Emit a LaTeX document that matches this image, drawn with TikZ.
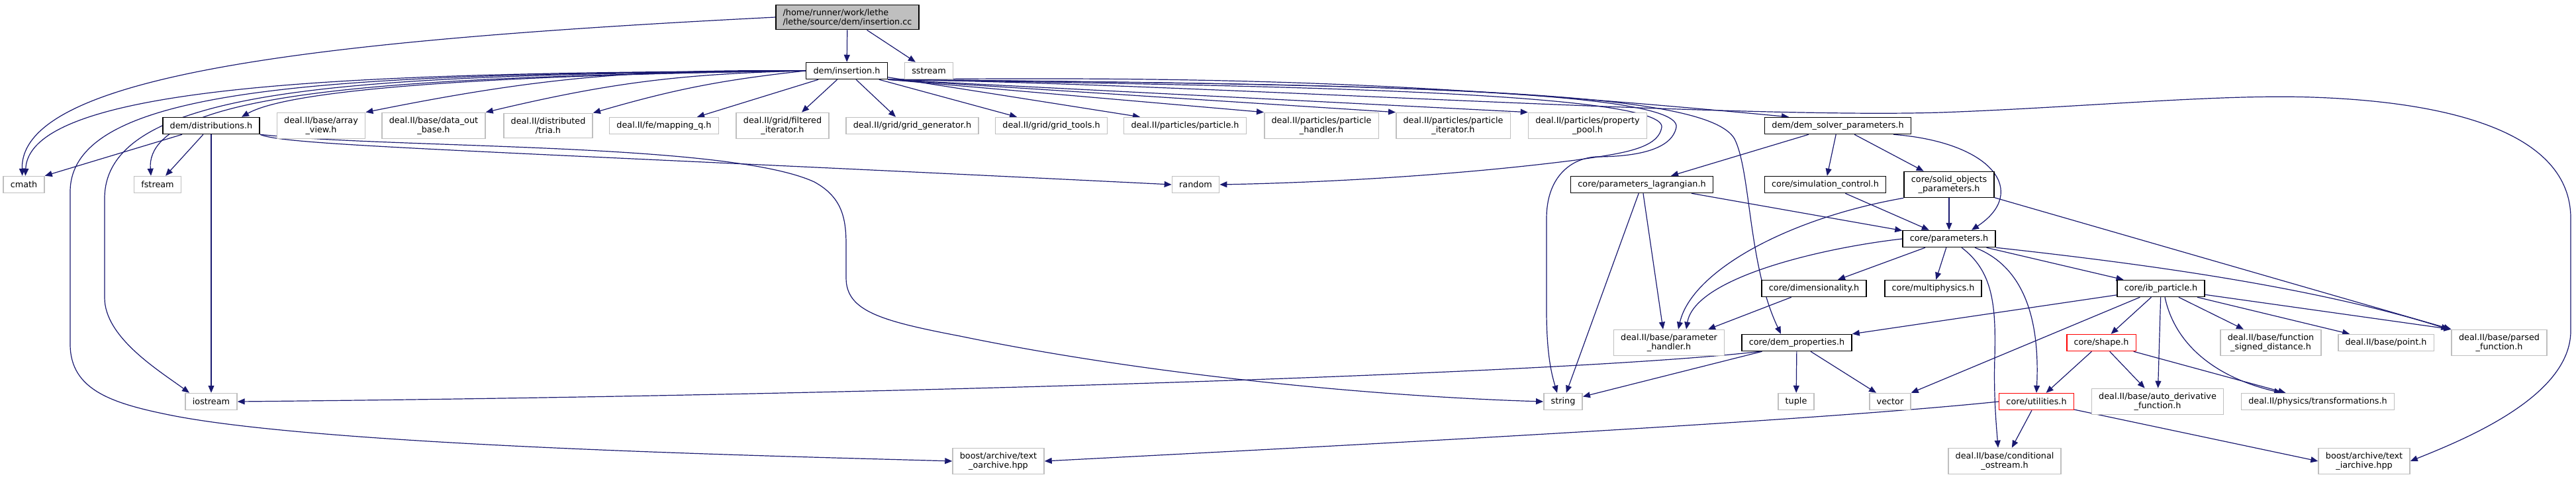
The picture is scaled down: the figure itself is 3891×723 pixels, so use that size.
\documentclass[tikz,border=0pt]{standalone}
\usepackage{fontspec}
\setmainfont{DejaVu Sans}
\usetikzlibrary{arrows.meta}
\definecolor{midnight}{RGB}{25,25,112}
\definecolor{grey75}{RGB}{191,191,191}
\pgfdeclarelayer{edges}
\pgfsetlayers{edges,main}

\begin{document}
\begin{tikzpicture}[x=0.5pt, y=-0.5pt, >={Triangle[length=5.5pt,width=4.5pt]},
		font=\fontsize{6.4}{7.2}\selectfont,
		filebox/.style={draw=grey75, line width=0.75pt, fill=white, align=center,
			inner xsep=5.4pt, inner ysep=3pt, minimum height=12.5pt},
		docbox/.style={filebox, draw=black},
		truncbox/.style={filebox, draw=red},
		incl/.style={->, midnight, line width=0.6pt}]
	\useasboundingbox (0,0) rectangle (3891,723);
	% the source file and dem/insertion.h
	\node[docbox, fill=grey75, align=left] (cc) at (1280,26) {/home/runner/work/lethe\\/lethe/source/dem/insertion.cc};
	\node[docbox] (ins) at (1279,107) {dem/insertion.h};
	\node[filebox] (sst) at (1403,107) {sstream};
	% second row
	\node[docbox] (dist) at (319,190) {dem/distributions.h};
	\node[filebox] (arrv) at (485,190) {deal.II/base/array\\\_view.h};
	\node[filebox] (dout) at (655,190) {deal.II/base/data\_out\\\_base.h};
	\node[filebox] (tria) at (828,190) {deal.II/distributed\\/tria.h};
	\node[filebox] (mapq) at (1003,190) {deal.II/fe/mapping\_q.h};
	\node[filebox] (filt) at (1182,190) {deal.II/grid/filtered\\\_iterator.h};
	\node[filebox] (ggen) at (1378,190) {deal.II/grid/grid\_generator.h};
	\node[filebox] (gtool) at (1588,190) {deal.II/grid/grid\_tools.h};
	\node[filebox] (part) at (1790,190) {deal.II/particles/particle.h};
	\node[filebox] (phand) at (1996,190) {deal.II/particles/particle\\\_handler.h};
	\node[filebox] (piter) at (2195,190) {deal.II/particles/particle\\\_iterator.h};
	\node[filebox] (ppool) at (2398,190) {deal.II/particles/property\\\_pool.h};
	\node[docbox] (dsp) at (2776,190) {dem/dem\_solver\_parameters.h};
	% third row
	\node[filebox] (cmath) at (36,279) {cmath};
	\node[filebox] (fstr) at (238,279) {fstream};
	\node[filebox] (rand) at (1806,279) {random};
	\node[docbox] (plag) at (2480,279) {core/parameters\_lagrangian.h};
	\node[docbox] (simc) at (2757,279) {core/simulation\_control.h};
	\node[docbox] (solid) at (2944,279) {core/solid\_objects\\\_parameters.h};
	\node[docbox] (par) at (2944,361) {core/parameters.h};
	\node[docbox] (dim) at (2740,436) {core/dimensionality.h};
	\node[docbox] (mph) at (2920,436) {core/multiphysics.h};
	\node[docbox] (ibp) at (3264,436) {core/ib\_particle.h};
	% lower rows
	\node[filebox] (phdl) at (2521,518) {deal.II/base/parameter\\\_handler.h};
	\node[docbox] (dprop) at (2714,518) {core/dem\_properties.h};
	\node[truncbox] (shape) at (3174,518) {core/shape.h};
	\node[filebox] (fsd) at (3430,518) {deal.II/base/function\\\_signed\_distance.h};
	\node[filebox] (pt) at (3604,518) {deal.II/base/point.h};
	\node[filebox] (pfun) at (3775,518) {deal.II/base/parsed\\\_function.h};
	\node[filebox] (iost) at (319,607) {iostream};
	\node[filebox] (str) at (2361,607) {string};
	\node[filebox] (tup) at (2713,607) {tuple};
	\node[filebox] (vec) at (2855,607) {vector};
	\node[truncbox] (util) at (3076,607) {core/utilities.h};
	\node[filebox] (adf) at (3259,607) {deal.II/base/auto\_derivative\\\_function.h};
	\node[filebox] (trans) at (3501,607) {deal.II/physics/transformations.h};
	\node[filebox] (toar) at (1508,697) {boost/archive/text\\\_oarchive.hpp};
	\node[filebox] (cost) at (3028,697) {deal.II/base/conditional\\\_ostream.h};
	\node[filebox] (tiar) at (3571,697) {boost/archive/text\\\_iarchive.hpp};

	\begin{pgfonlayer}{edges}
	% includes of the source file
	\draw[incl] (cc) -- (ins);
	\draw[incl] (cc) -- (sst);
	\draw[incl] (cc.west) .. controls (500,60) and (30,110) .. (cmath.100);
	% dem/insertion.h, to the left
	\draw[incl] (ins.west) .. controls (600,110) and (45,120) .. (cmath.80);
	\draw[incl] (ins.west) .. controls (520,112) and (106,125) .. (106,290) -- (106,520)
		.. controls (106,590) and (170,610) .. (260,628) .. controls (500,675) and (1200,690) .. (toar.west);
	\draw[incl] (ins.west) .. controls (560,114) and (158,125) .. (158,300) -- (158,450)
		.. controls (158,510) and (240,560) .. ([xshift=-16.5pt]iost.north);
	\draw[incl] (ins.west) .. controls (650,116) and (218,130) .. ([xshift=-5pt]fstr.north);
	\draw[incl] (ins.west) .. controls (850,112) and (450,128) .. ([xshift=23pt]dist.north);
	\draw[incl] (ins.west) to[bend right=6] (arrv.north east);
	\draw[incl] (ins.west) to[bend right=6] (dout.north east);
	\draw[incl] (ins.west) to[bend right=5] (tria.north east);
	\draw[incl] (ins) -- ([xshift=25pt]mapq.north);
	\draw[incl] (ins) -- ([xshift=14.5pt]filt.north);
	\draw[incl] (ins) -- ([xshift=-12.5pt]ggen.north);
	\draw[incl] (ins) -- ([xshift=-26pt]gtool.north);
	\draw[incl] (ins) -- ([xshift=-34pt]part.north);
	\draw[incl] (ins.south east) -- (phand.north west);
	\draw[incl] (ins.south east) -- (piter.north west);
	\draw[incl] (ins.south east) -- (ppool.north west);
	\draw[incl] (ins.south east) to[bend left=3] ([xshift=-37pt]dsp.north);
	% dem/insertion.h, long routes to the right
	\draw[incl] (ins.south east) .. controls (1800,128) and (2515,135) .. (2510,192)
		.. controls (2505,225) and (2450,232) .. (2380,242) .. controls (2200,265) and (2000,276) .. (rand.east);
	\draw[incl] (ins.south east) .. controls (1850,126) and (2540,128) .. (2532,192)
		.. controls (2525,230) and (2460,237) .. (2410,237) .. controls (2370,240) and (2336,270) .. (2336,330)
		-- (2336,470) .. controls (2336,540) and (2345,570) .. ([xshift=-4.5pt]str.north);
	\draw[incl] (ins.south east) .. controls (2200,128) and (2580,140) .. (2620,210)
		.. controls (2645,260) and (2640,400) .. ([xshift=-12pt]dprop.north);
	\draw[incl] (ins.south east) .. controls (1800,126) and (2600,180) .. (2932,170)
		.. controls (3150,162) and (3350,142) .. (3493,147) .. controls (3700,154) and (3883,200) .. (3883,330)
		-- (3883,500) .. controls (3883,600) and (3720,665) .. (tiar.east);
	% dem/distributions.h
	\draw[incl] (dist) -- (cmath.north east);
	\draw[incl] (dist) -- (fstr);
	\draw[incl] (dist) -- (iost);
	\draw[incl] (dist.south east) .. controls (430,220) and (700,226) .. (rand.west);
	\draw[incl] (dist.south east) .. controls (600,225) and (1100,215) .. (1230,275)
		.. controls (1272,298) and (1278,330) .. (1278,370) -- (1278,420)
		.. controls (1278,470) and (1330,485) .. (1450,508) .. controls (1750,570) and (2100,600) .. (str.west);
	% dem/dem_solver_parameters.h
	\draw[incl] (dsp) -- (plag);
	\draw[incl] (dsp) -- (simc);
	\draw[incl] (dsp) -- (solid);
	\draw[incl] ([xshift=42pt]dsp.south) .. controls (3010,215) and (3065,290) .. ([xshift=17pt]par.north);
	% lagrangian, simulation control, solid objects
	\draw[incl] (plag) -- (str);
	\draw[incl] (plag) -- (par);
	\draw[incl] (plag) -- ([xshift=-4.5pt]phdl.north);
	\draw[incl] (simc) -- (par);
	\draw[incl] (solid) -- (par);
	\draw[incl] (solid.south west) .. controls (2700,330) and (2555,410) .. ([xshift=7pt]phdl.north);
	\draw[incl] (solid) -- (pfun.north west);
	% core/parameters.h
	\draw[incl] (par) -- (dim);
	\draw[incl] (par) -- (mph);
	\draw[incl] (par) -- (ibp);
	\draw[incl] (par.west) .. controls (2750,375) and (2560,420) .. ([xshift=13pt]phdl.north);
	\draw[incl] (par.south east) .. controls (3250,400) and (3500,435) .. ([xshift=-2pt]pfun.north west);
	\draw[incl] ([xshift=9.5pt]par.south) .. controls (3010,410) and (3015,460) .. (3013,540)
		.. controls (3011,600) and (3016,650) .. ([xshift=-5pt]cost.north);
	\draw[incl] ([xshift=19.5pt]par.south) .. controls (3050,400) and (3082,470) .. (util.north);
	\draw[incl] (dim) -- ([xshift=29.5pt]phdl.north);
	% core/ib_particle.h
	\draw[incl] (ibp) -- (dprop.north east);
	\draw[incl] (ibp) -- (vec);
	\draw[incl] (ibp) -- (shape);
	\draw[incl] (ibp) -- (adf);
	\draw[incl] ([xshift=3pt]ibp.south) .. controls (3285,520) and (3345,570) .. ([xshift=-27.5pt]trans.north);
	\draw[incl] (ibp) -- (fsd);
	\draw[incl] (ibp) -- (pt);
	\draw[incl] (ibp) -- (pfun.north west);
	% core/dem_properties.h
	\draw[incl] ([xshift=-28pt]dprop.south) .. controls (2400,562) and (1400,597) .. (iost.east);
	\draw[incl] (dprop) -- (str);
	\draw[incl] (dprop) -- (tup);
	\draw[incl] (dprop) -- (vec);
	% core/shape.h and core/utilities.h
	\draw[incl] (shape) -- (util);
	\draw[incl] (shape) -- (adf);
	\draw[incl] (shape) -- (trans);
	\draw[incl] (util) -- (cost);
	\draw[incl] (util) -- (tiar.west);
	\draw[incl] (util.west) .. controls (2700,640) and (1900,680) .. (toar.east);
	\end{pgfonlayer}
\end{tikzpicture}
\end{document}
